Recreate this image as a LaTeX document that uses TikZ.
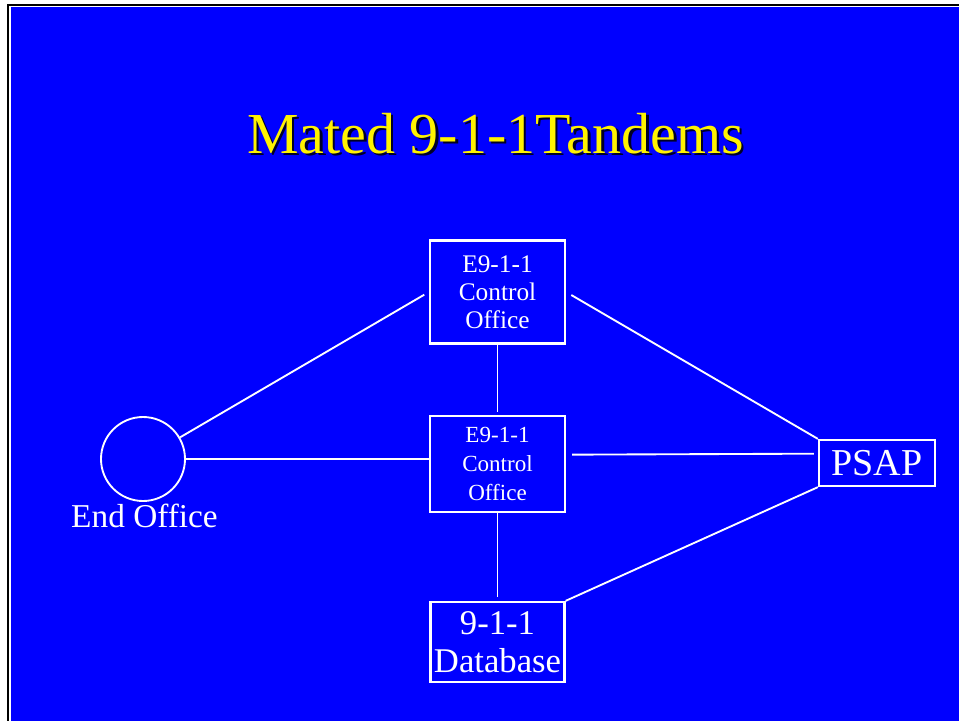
\documentclass[tikz,border=0pt]{standalone}
\usepackage{fontspec}
\setmainfont{Liberation Serif}
\usetikzlibrary{calc}

\begin{document}
\begin{tikzpicture}[x=0.75pt,y=-0.75pt,
  wire/.style={draw=white,line width=1.4pt},
  office/.style={draw=white,line width=1.7pt,inner sep=0pt,text=white,align=center},
  titletext/.style={font=\fontsize{43.5}{50}\selectfont,anchor=base}]
       \useasboundingbox(0,0)rectangle(959,721);%画像の大きさ
       \fill[white](0,0)rectangle(959,721);%余白
       \fill[black](7.3,4)rectangle(959,6);%上の黒線
       \fill[black](7.3,4)rectangle(9.3,721);%左の黒線
       \fill[blue](10.7,7.3)rectangle(959,721);%青い背景

       \node[titletext,text=black!85!blue](shadow)at(498,155.5){Mated 9-1-1Tandems};%影
       \node[titletext,text=yellow](title)at(495.5,153){Mated 9-1-1Tandems};%題

       \node[office,minimum width=101.25pt,minimum height=77.25pt,
           font=\fontsize{19}{21}\selectfont](top)at(497.5,292){E9-1-1\\Control\\Office};%上の局
       \node[office,minimum width=101.25pt,minimum height=72pt,
           font=\fontsize{17.3}{21.4}\selectfont](mid)at(497.5,464){E9-1-1\\Control\\Office};%中の局
       \node[office,minimum width=100.5pt,minimum height=60pt,
           font=\fontsize{26}{28.5}\selectfont](db)at(497.5,642){9-1-1\\Database};%データベース
       \node[office,minimum width=87pt,minimum height=34.5pt,
           font=\fontsize{28.5}{30}\selectfont](psap)at(877,463){PSAP};%PSAP
       \node[circle,draw=white,line width=1.4pt,minimum size=63pt,inner sep=0pt](eo)at(143,459){};%端局
       \node[text=white,anchor=base,font=\fontsize{25}{28}\selectfont](eolabel)at(144.5,527){End Office};%端局の名前

       \draw[wire,shorten >=2pt](top)--(mid);
       \draw[wire,shorten >=3pt](mid)--(db);
       \draw[wire,shorten >=4pt](eo)--(top.west);
       \draw[wire](eo)--(eo-|mid.west);
       \draw[wire,shorten <=4.5pt](top.east)--(psap.north west);
       \draw[wire,shorten <=4.5pt,shorten >=3pt]([yshift=7pt]mid.east)--([yshift=7pt]psap.west);
       \draw[wire](db.north east)--(psap.south west);
      \end{tikzpicture}
\end{document}
